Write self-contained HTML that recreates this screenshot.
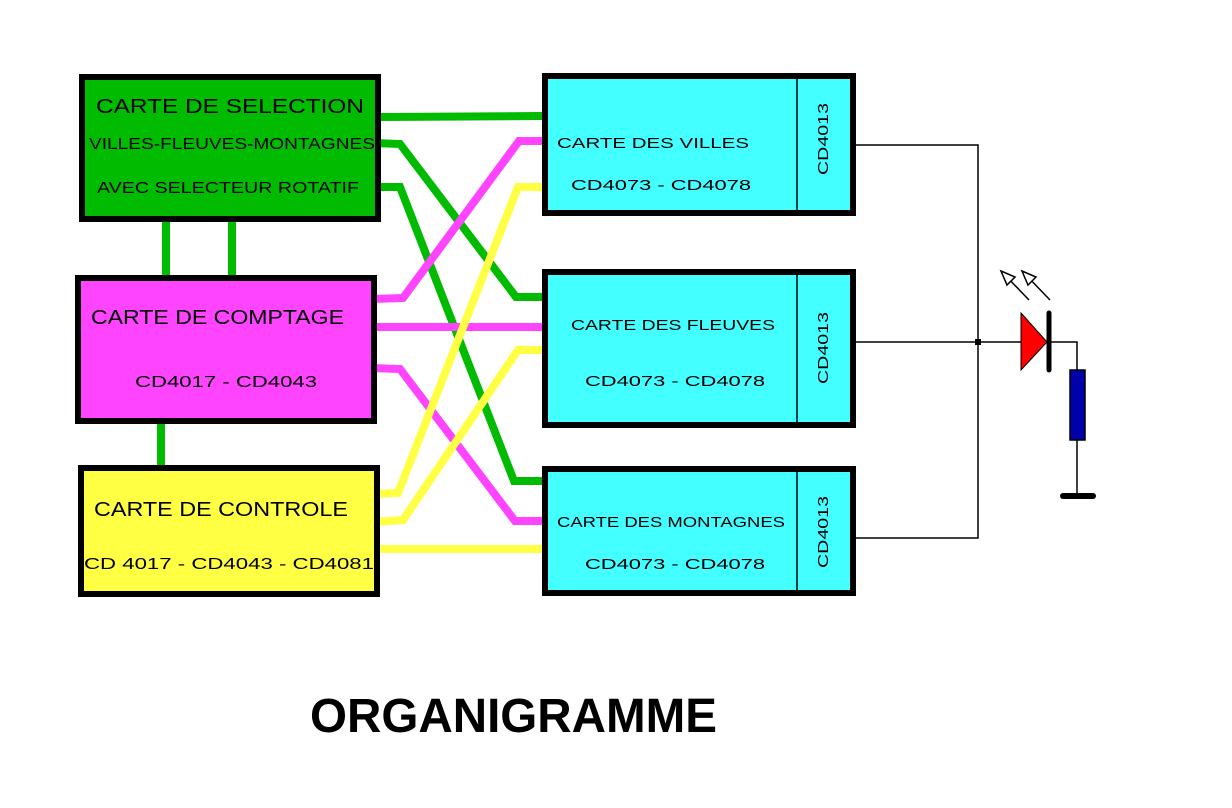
<!DOCTYPE html>
<html><head><meta charset="utf-8"><style>html,body{margin:0;padding:0;background:#fff}svg{display:block}</style></head>
<body>
<svg width="1232" height="808" viewBox="0 0 1232 808" xmlns="http://www.w3.org/2000/svg" font-family="Liberation Sans, sans-serif">
<rect width="1232" height="808" fill="#fff"/>
<!-- wires -->
<g fill="none" stroke-width="8" stroke-linejoin="miter">
<polyline stroke="#00bb00" points="376,117 543,116"/>
<polyline stroke="#00bb00" points="376,143 400,144 516,297 543,297"/>
<polyline stroke="#00bb00" points="376,187 400,187 514,481 543,481"/>
<polyline stroke="#00bb00" points="166,219 166,278"/>
<polyline stroke="#00bb00" points="232,219 232,278"/>
<polyline stroke="#00bb00" points="161,421 161,468"/>
<polyline stroke="#ff44ff" points="372,299 403,298 519,141 543,141"/>
<polyline stroke="#ff44ff" points="372,327 543,327"/>
<polyline stroke="#ff44ff" points="372,368 400,369 515,521 543,521"/>
<polyline stroke="#ffff44" points="375,494 398,493 518,187 543,187"/>
<polyline stroke="#ffff44" points="375,522 403,520 518,350 543,350"/>
<polyline stroke="#ffff44" points="375,549 543,549"/>
</g>
<!-- left boxes -->
<g stroke="#000" stroke-width="6">
<rect x="82" y="77" width="296" height="142" fill="#00bb00"/>
<rect x="78" y="278" width="296" height="143" fill="#ff44ff"/>
<rect x="81" y="468" width="296" height="126" fill="#ffff44"/>
</g>
<g font-size="19" fill="#000">
<text x="96" y="113" textLength="268" lengthAdjust="spacingAndGlyphs" font-size="20">CARTE DE SELECTION</text>
<text x="89" y="149" textLength="286" lengthAdjust="spacingAndGlyphs" font-size="16">VILLES-FLEUVES-MONTAGNES</text>
<text x="97" y="193" textLength="262" lengthAdjust="spacingAndGlyphs" font-size="16">AVEC SELECTEUR ROTATIF</text>
<text x="91" y="324" textLength="253" lengthAdjust="spacingAndGlyphs" font-size="20">CARTE DE COMPTAGE</text>
<text x="135" y="387" textLength="182" lengthAdjust="spacingAndGlyphs" font-size="16">CD4017 - CD4043</text>
<text x="94" y="516" textLength="254" lengthAdjust="spacingAndGlyphs" font-size="20">CARTE DE CONTROLE</text>
<text x="84" y="569" textLength="290" lengthAdjust="spacingAndGlyphs" font-size="16">CD 4017 - CD4043 - CD4081</text>
</g>
<!-- right boxes -->
<g stroke="#000" stroke-width="6" fill="#44ffff">
<rect x="545" y="76" width="308" height="137"/>
<rect x="545" y="272" width="308" height="153"/>
<rect x="545" y="469" width="308" height="124"/>
</g>
<g stroke="#000" stroke-width="1.5">
<line x1="797" y1="76" x2="797" y2="213"/>
<line x1="797" y1="272" x2="797" y2="425"/>
<line x1="797" y1="469" x2="797" y2="593"/>
</g>
<g font-size="15" fill="#000">
<text x="557" y="148" textLength="192" lengthAdjust="spacingAndGlyphs">CARTE DES VILLES</text>
<text x="571" y="190" textLength="180" lengthAdjust="spacingAndGlyphs">CD4073 - CD4078</text>
<text x="571" y="330" textLength="204" lengthAdjust="spacingAndGlyphs">CARTE DES FLEUVES</text>
<text x="585" y="386" textLength="180" lengthAdjust="spacingAndGlyphs">CD4073 - CD4078</text>
<text x="557" y="527" textLength="228" lengthAdjust="spacingAndGlyphs">CARTE DES MONTAGNES</text>
<text x="585" y="569" textLength="180" lengthAdjust="spacingAndGlyphs">CD4073 - CD4078</text>
<text transform="translate(828,175) rotate(-90)" textLength="72" lengthAdjust="spacingAndGlyphs">CD4013</text>
<text transform="translate(828,384) rotate(-90)" textLength="72" lengthAdjust="spacingAndGlyphs">CD4013</text>
<text transform="translate(828,568) rotate(-90)" textLength="72" lengthAdjust="spacingAndGlyphs">CD4013</text>
</g>
<!-- right circuit -->
<g stroke="#000" stroke-width="1.5" fill="none">
<polyline points="856,145 978,145 978,538 856,538"/>
<line x1="856" y1="342" x2="1022" y2="342"/>
<polyline points="1049,342 1077,342 1077,370"/>
<line x1="1077" y1="440" x2="1077" y2="496"/>
<line x1="1029" y1="300" x2="1004" y2="274"/>
<line x1="1050" y1="300" x2="1025" y2="274"/>
<polygon points="1001,271 1015,277 1007,285" fill="#fff"/>
<polygon points="1022,271 1036,277 1028,285" fill="#fff"/>
</g>
<rect x="975" y="339" width="6" height="6" fill="#000"/>
<polygon points="1021,313 1047,342 1021,370" fill="#ff0000" stroke="#000" stroke-width="1"/>
<line x1="1049" y1="313" x2="1049" y2="370" stroke="#000" stroke-width="5" stroke-linecap="round"/>
<rect x="1070" y="370" width="15" height="70" fill="#0000aa" stroke="#000" stroke-width="1.5"/>
<line x1="1063" y1="496" x2="1093" y2="496" stroke="#000" stroke-width="6" stroke-linecap="round"/>
<text x="310" y="732" font-size="48" font-weight="bold" fill="#000" textLength="407" lengthAdjust="spacingAndGlyphs">ORGANIGRAMME</text>
</svg>
</body></html>
